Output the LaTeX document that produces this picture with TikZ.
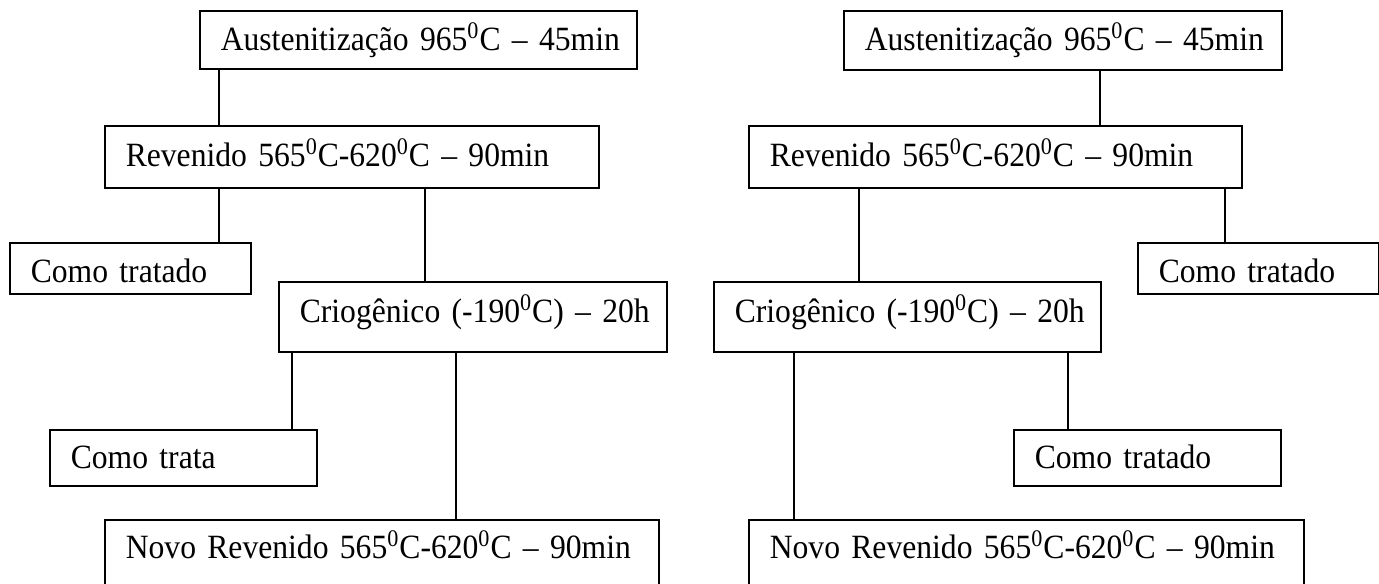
\documentclass[tikz,border=0pt]{standalone}
\usepackage{fontspec}
\setmainfont{Liberation Serif}[FakeStretch=0.93,WordSpace=0.8]
\newcommand{\dg}{\textsuperscript{0}}
\begin{document}
\begin{tikzpicture}[x=0.5pt,y=-0.5pt,
  box/.style n args={3}{draw, line width=0.8pt, anchor=north west, inner xsep=10.5pt, inner ysep=0pt,
    align=left, text width=#1pt, text height=#2pt, text depth=#3pt,
    font=\fontsize{17}{20}\selectfont},
  link/.style={draw, line width=0.8pt}]
\useasboundingbox (0,0) rectangle (1379,583);
\clip (0,0) rectangle (1379,583);
% left tree
\node[box={197.5}{20}{9}]     (aL) at (199,10)  {\mbox{Austenitização 965\dg C – 45min}};
\node[box={226}{20.5}{10.5}]  (rL) at (104,125) {\mbox{Revenido 565\dg C-620\dg C – 90min}};
\node[box={99.5}{20}{5.5}]    (cL) at (9,242)   {\mbox{Como tratado}};
\node[box={173}{20.5}{14.5}]  (kL) at (278,281) {\mbox{Criogênico (-190\dg C) – 20h}};
\node[box={112.5}{19.5}{8.5}] (tL) at (49,429)  {\mbox{Como trata}};
\node[box={256}{19.5}{30}]    (nL) at (104,519) {\mbox{Novo Revenido 565\dg C-620\dg C – 90min}};
\draw[link] (aL.south -| 219,0) -- (rL.north -| 219,0);
\draw[link] (rL.south -| 219,0) -- (cL.north -| 219,0);
\draw[link] (rL.south -| 425,0) -- (kL.north -| 425,0);
\draw[link] (kL.south -| 292,0) -- (tL.north -| 292,0);
\draw[link] (kL.south -| 456,0) -- (nL.north -| 456,0);
% right tree
\node[box={198}{20}{9.5}]     (aR) at (843,10)   {\mbox{Austenitização 965\dg C – 45min}};
\node[box={225.5}{20.5}{10.5}](rR) at (748,125)  {\mbox{Revenido 565\dg C-620\dg C – 90min}};
\node[box={99.5}{20}{5.5}]    (cR) at (1137,242) {\mbox{Como tratado}};
\node[box={172.5}{20.5}{14.5}](kR) at (713,281)  {\mbox{Criogênico (-190\dg C) – 20h}};
\node[box={112.5}{19.5}{8.5}] (tR) at (1013,429) {\mbox{Como tratado}};
\node[box={256.5}{19.5}{30}]  (nR) at (748,519)  {\mbox{Novo Revenido 565\dg C-620\dg C – 90min}};
\draw[link] (aR.south -| 1100,0) -- (rR.north -| 1100,0);
\draw[link] (rR.south -| 859,0) -- (kR.north -| 859,0);
\draw[link] (rR.south -| 1225,0) -- (cR.north -| 1225,0);
\draw[link] (kR.south -| 794,0) -- (nR.north -| 794,0);
\draw[link] (kR.south -| 1068,0) -- (tR.north -| 1068,0);
\end{tikzpicture}
\end{document}
